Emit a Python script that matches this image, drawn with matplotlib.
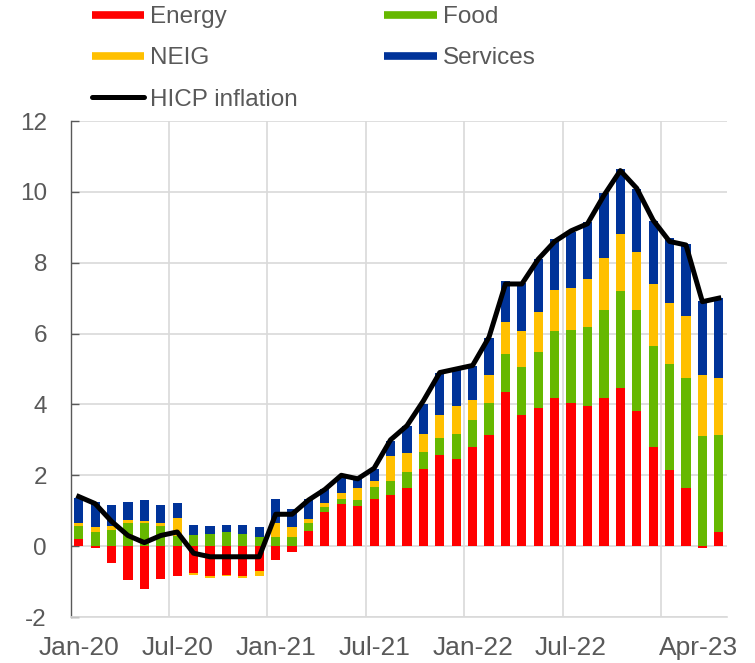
import matplotlib
matplotlib.use("Agg")
import matplotlib.pyplot as plt
from matplotlib.lines import Line2D
from matplotlib.transforms import ScaledTranslation
from matplotlib import font_manager as fm
import numpy as np

months = ["Jan-20", "Feb-20", "Mar-20", "Apr-20", "May-20", "Jun-20", "Jul-20", "Aug-20", "Sep-20", "Oct-20",
          "Nov-20", "Dec-20", "Jan-21", "Feb-21", "Mar-21", "Apr-21", "May-21", "Jun-21", "Jul-21", "Aug-21",
          "Sep-21", "Oct-21", "Nov-21", "Dec-21", "Jan-22", "Feb-22", "Mar-22", "Apr-22", "May-22", "Jun-22",
          "Jul-22", "Aug-22", "Sep-22", "Oct-22", "Nov-22", "Dec-22", "Jan-23", "Feb-23", "Mar-23", "Apr-23"]

energy = [0.21, -0.06, -0.47, -0.96, -1.22, -0.92, -0.85, -0.77, -0.83, -0.81, -0.85, -0.69,
          -0.40, -0.17, 0.42, 0.96, 1.18, 1.13, 1.33, 1.44, 1.63, 2.19, 2.57, 2.45,
          2.81, 3.14, 4.35, 3.70, 3.90, 4.18, 4.04, 3.95, 4.18, 4.45, 3.81, 2.80,
          2.15, 1.63, -0.05, 0.40]
food = [0.36, 0.40, 0.45, 0.66, 0.66, 0.56, 0.28, 0.31, 0.33, 0.40, 0.35, 0.26,
        0.26, 0.26, 0.22, 0.14, 0.14, 0.16, 0.34, 0.41, 0.46, 0.47, 0.48, 0.72,
        0.74, 0.90, 1.07, 1.36, 1.58, 1.88, 2.06, 2.24, 2.49, 2.74, 2.86, 2.85,
        2.98, 3.12, 3.11, 2.74]
neig = [0.09, 0.14, 0.11, 0.09, 0.04, 0.09, 0.52, -0.05, -0.07, -0.04, -0.04, -0.16,
        0.40, 0.28, 0.13, 0.12, 0.19, 0.34, 0.18, 0.69, 0.55, 0.51, 0.65, 0.78,
        0.57, 0.79, 0.92, 1.01, 1.12, 1.18, 1.18, 1.36, 1.47, 1.63, 1.63, 1.74,
        1.74, 1.74, 1.72, 1.62]
services = [0.71, 0.71, 0.61, 0.50, 0.59, 0.52, 0.42, 0.30, 0.25, 0.19, 0.26, 0.27,
            0.68, 0.52, 0.55, 0.38, 0.42, 0.27, 0.32, 0.43, 0.75, 0.83, 1.20, 1.04,
            0.96, 1.05, 1.13, 1.37, 1.50, 1.42, 1.59, 1.61, 1.84, 1.82, 1.78, 1.79,
            1.82, 2.03, 2.09, 2.23]
hicp = [1.4, 1.2, 0.7, 0.3, 0.1, 0.3, 0.4, -0.2, -0.3, -0.3, -0.3, -0.3,
        0.9, 0.9, 1.3, 1.6, 2.0, 1.9, 2.2, 3.0, 3.4, 4.1, 4.9, 5.0,
        5.1, 5.9, 7.4, 7.4, 8.1, 8.6, 8.9, 9.1, 9.9, 10.6, 10.1, 9.2,
        8.6, 8.5, 6.9, 7.0]

tick_labels = ["Jan-20", "Jul-20", "Jan-21", "Jul-21", "Jan-22", "Jul-22", "Apr-23"]
series_names = ["Energy", "Food", "NEIG", "Services"]
series_colors = ["#FF0000", "#66B800", "#FFC000", "#003399"]

names = {f.name for f in fm.fontManager.ttflist}
if "Liberation Sans Narrow" in names:
    family, fs, fsx = "Liberation Sans Narrow", 20, 21.5
else:
    family, fs, fsx = "Liberation Sans", 17.5, 19
plt.rcParams["font.family"] = [family, "DejaVu Sans"]
plt.rcParams["axes.unicode_minus"] = False
txt_color = "#595959"

fig = plt.figure(figsize=(7.55, 6.63), dpi=100)
ax = fig.add_axes([70.5 / 755, 1 - 617 / 663, (727 - 70.5) / 755, (617 - 121) / 663])

x = np.arange(len(months))
pos_base = np.zeros(len(months))
neg_base = np.zeros(len(months))
handles = {}
for name, vals, col in zip(series_names, [energy, food, neig, services], series_colors):
    v = np.array(vals)
    bottoms = np.where(v >= 0, pos_base, neg_base)
    ax.bar(x, v, width=0.56, bottom=bottoms, color=col, zorder=2, linewidth=0)
    pos_base = pos_base + np.where(v >= 0, v, 0)
    neg_base = neg_base + np.where(v < 0, v, 0)
    handles[name] = Line2D([], [], color=col, lw=5.5, solid_capstyle="butt")

ax.plot(x, hicp, color="black", lw=3.6, zorder=3, solid_joinstyle="round")
handles["HICP inflation"] = Line2D([], [], color="black", lw=3.6, solid_capstyle="round")

ax.set_xlim(-0.5, len(months) - 0.5)
ax.set_ylim(-2, 12)
ax.set_yticks(np.arange(-2, 13, 2))
ax.yaxis.grid(True, color="#D9D9D9", lw=1.2, zorder=0)
for b in np.arange(5.5, len(months) - 1, 6):
    ax.axvline(b, color="#D9D9D9", lw=1.2, zorder=0)

tick_pos = [months.index(t) for t in tick_labels]
ax.set_xticks(tick_pos)
ax.set_xticklabels(tick_labels)
ax.tick_params(axis="x", length=0, pad=14, labelsize=fsx, labelcolor=txt_color)
ax.tick_params(axis="y", direction="in", length=6, width=1, color="#595959",
               pad=17, labelsize=fs, labelcolor=txt_color)
xl = ax.get_xticklabels()[-1]
xl.set_transform(xl.get_transform() + ScaledTranslation(-20 / 100, 0, fig.dpi_scale_trans))

for s in ["top", "right"]:
    ax.spines[s].set_visible(False)
ax.spines["bottom"].set_color("#D9D9D9")
ax.spines["bottom"].set_linewidth(1.2)
ax.spines["left"].set_color("#595959")
ax.spines["left"].set_linewidth(1.0)

order = ["Energy", "NEIG", "HICP inflation", "Food", "Services"]
leg = fig.legend([handles[k] for k in order], order, ncol=2, frameon=False,
                 loc="upper left", bbox_to_anchor=(92 / 755, 1 - 6 / 663),
                 fontsize=fs, handlelength=2.15, handletextpad=0.25,
                 columnspacing=3.55, labelspacing=0.8, borderpad=0, borderaxespad=0)
for t in leg.get_texts():
    t.set_color(txt_color)

fig.savefig("out.png", dpi=100)
